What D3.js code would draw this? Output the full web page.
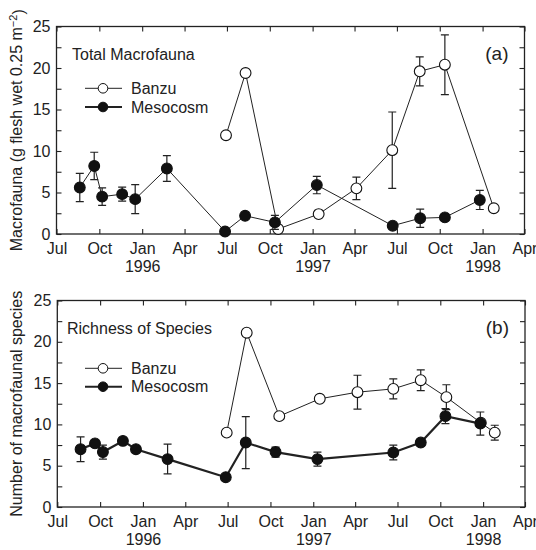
<!DOCTYPE html>
<html>
<head>
<meta charset="utf-8">
<script src="https://cdn.jsdelivr.net/npm/d3@7"></script>
<style>
  body { margin: 0; background: #fff; }
  svg text { font-family: "Liberation Sans", Arial, sans-serif; fill: #222; }
</style>
</head>
<body>
<div id="chart"></div>
<script>
// ---- data ----
const tickDates = ["1995-07-01","1995-10-01","1996-01-01","1996-04-01","1996-07-01","1996-10-01",
                   "1997-01-01","1997-04-01","1997-07-01","1997-10-01","1998-01-01","1998-04-01"];
const tickMonths = ["Jul","Oct","Jan","Apr","Jul","Oct","Jan","Apr","Jul","Oct","Jan","Apr"];
const tickYears = ["","","1996","","","","1997","","","","1998",""];

const mesoDates = ["1995-08-20","1995-09-20","1995-10-07","1995-11-19","1995-12-17","1996-02-23",
                   "1996-06-27","1996-08-09","1996-10-12","1997-01-10","1997-06-22","1997-08-20",
                   "1997-10-12","1997-12-26"];

// (a) total macrofauna
const mesoBiomass   = [5.6, 8.2, 4.5, 4.8, 4.2, 7.9, 0.3, 2.2, 1.4, 5.9, 1.0, 1.9, 2.0, 4.1];
const mesoBiomassSE = [1.7, 1.65, 1.05, 0.85, 1.75, 1.55, null, null, 0.85, 1.05, null, 1.1, null, 1.15];
const banzuDatesA   = ["1996-06-29","1996-08-10","1996-10-19","1997-01-14","1997-04-05","1997-06-21",
                       "1997-08-19","1997-10-12","1998-01-25"];
const banzuBiomass   = [11.9, 19.4, 0.6, 2.4, 5.5, 10.1, 19.6, 20.4, 3.1];
const banzuBiomassSE = [null, null, null, null, 1.35, 4.6, 1.75, 3.6, null];

// (b) species richness
const mesoRich   = [7.0, 7.7, 6.65, 8.0, 7.0, 5.8, 3.6, 7.8, 6.65, 5.8, 6.6, 7.8, 11.0, 10.1];
const mesoRichSE = [1.5, null, 0.85, null, null, 1.8, null, 3.15, 0.6, 0.85, 0.9, null, 0.9, 1.4];
const banzuDatesB = ["1996-06-29","1996-08-11","1996-10-20","1997-01-15","1997-04-06","1997-06-22",
                     "1997-08-20","1997-10-14","1997-12-27","1998-01-26"];
const banzuRich   = [9.0, 21.1, 11.0, 13.1, 13.9, 14.3, 15.35, 13.3, 10.2, 9.0];
const banzuRichSE = [null, null, null, null, 2.05, 1.2, 1.25, 1.5, null, 0.9];

const yTicks = d3.range(0, 25.01, 2.5);

const parse = d3.timeParse("%Y-%m-%d");

const width = 536, height = 550;
const svg = d3.select("#chart").append("svg")
  .attr("width", width)
  .attr("height", height);

function series(dates, vals, se) {
  return dates.map((d, i) => ({ date: parse(d), value: vals[i], se: se[i] }));
}

function drawPanel(cfg) {
  const g = svg.append("g");
  const x = d3.scaleTime()
    .domain([parse(tickDates[0]), parse(tickDates[tickDates.length - 1])])
    .range([cfg.left, cfg.right]);
  const y = d3.scaleLinear().domain([0, 25]).range([cfg.bottom, cfg.top]);
  const tickVals = tickDates.map(parse);

  // axes (ticks pointing inward on all four sides)
  const bottomAx = g.append("g")
    .attr("transform", `translate(0,${cfg.bottom})`)
    .call(d3.axisBottom(x).tickValues(tickVals).tickSize(-5).tickPadding(9)
      .tickFormat((d, i) => tickMonths[i]));
  g.append("g")
    .attr("transform", `translate(0,${cfg.top})`)
    .call(d3.axisTop(x).tickValues(tickVals).tickSize(-5).tickFormat(""));
  g.append("g")
    .attr("transform", `translate(${cfg.left},0)`)
    .call(d3.axisLeft(y).tickValues(yTicks).tickSize(-5).tickPadding(6)
      .tickFormat(d => d % 5 === 0 ? d : ""));
  g.append("g")
    .attr("transform", `translate(${cfg.right},0)`)
    .call(d3.axisRight(y).tickValues(yTicks).tickSize(-5).tickFormat(""));

  g.selectAll(".domain").remove();
  g.selectAll(".tick line").attr("stroke", "#222").attr("stroke-width", 1.1);
  g.selectAll(".tick text").style("font-size", "16px").attr("fill", "#222");

  // year labels under Jan ticks
  bottomAx.selectAll(".tick").append("text")
    .attr("y", 27).attr("dy", "0.71em")
    .attr("fill", "#222")
    .style("font-size", "16px")
    .text((d, i) => tickYears[i]);

  // frame
  g.append("rect")
    .attr("x", cfg.left).attr("y", cfg.top)
    .attr("width", cfg.right - cfg.left).attr("height", cfg.bottom - cfg.top)
    .attr("fill", "none").attr("stroke", "#222").attr("stroke-width", 1.3);

  // y label
  const yl = g.append("text")
    .attr("transform", `translate(16,${(cfg.top + cfg.bottom) / 2}) rotate(-90)`)
    .attr("text-anchor", "middle")
    .attr("dy", "0.35em")
    .style("font-size", "16px");
  cfg.ylabel(yl);

  // title and panel letter
  g.append("text").attr("x", cfg.titleX).attr("y", cfg.top + 33.5)
    .style("font-size", "16px").text(cfg.title);
  g.append("text").attr("x", cfg.right - 16).attr("y", cfg.top + 33)
    .attr("text-anchor", "end").style("font-size", "19px").text(cfg.letter);

  const line = d3.line().x(d => x(d.date)).y(d => y(d.value));

  function drawSeries(data, opts) {
    g.append("path").datum(data)
      .attr("fill", "none").attr("stroke", "#222")
      .attr("stroke-width", opts.lineWidth)
      .attr("d", line);
    const eb = data.filter(d => d.se != null);
    const cap = 4;
    g.selectAll(null).data(eb).join("path")
      .attr("fill", "none").attr("stroke", "#222").attr("stroke-width", 1.2)
      .attr("d", d => {
        const cx = x(d.date), y1 = y(d.value + d.se), y2 = y(d.value - d.se);
        return `M${cx},${y1}V${y2}M${cx - cap},${y1}H${cx + cap}M${cx - cap},${y2}H${cx + cap}`;
      });
    g.selectAll(null).data(data).join("circle")
      .attr("cx", d => x(d.date)).attr("cy", d => y(d.value))
      .attr("r", 5.4)
      .attr("fill", opts.filled ? "#111" : "#fff")
      .attr("stroke", "#111").attr("stroke-width", 1.1);
  }

  drawSeries(cfg.banzu, { filled: false, lineWidth: 1 });
  drawSeries(cfg.meso, { filled: true, lineWidth: cfg.mesoWidth });

  // legend
  const lg = [
    { name: "Banzu", filled: false, w: 1, y: cfg.legY[0] },
    { name: "Mesocosm", filled: true, w: 2, y: cfg.legY[1] }
  ];
  lg.forEach(l => {
    g.append("line").attr("x1", 85).attr("x2", 122).attr("y1", l.y).attr("y2", l.y)
      .attr("stroke", "#222").attr("stroke-width", l.w);
    g.append("circle").attr("cx", 103).attr("cy", l.y).attr("r", 4.8)
      .attr("fill", l.filled ? "#111" : "#fff").attr("stroke", "#111").attr("stroke-width", 1);
    g.append("text").attr("x", 131).attr("y", l.y).attr("dy", "0.35em")
      .style("font-size", "16px").text(l.name);
  });
}

drawPanel({
  left: 56.5, right: 524.5, top: 26.5, bottom: 234,
  title: "Total Macrofauna", titleX: 72, letter: "(a)",
  legY: [88.3, 107],
  mesoWidth: 1,
  banzu: series(banzuDatesA, banzuBiomass, banzuBiomassSE),
  meso: series(mesoDates, mesoBiomass, mesoBiomassSE),
  ylabel: t => {
    t.append("tspan").text("Macrofauna (g flesh wet 0.25 m");
    t.append("tspan").attr("dy", "-0.45em").style("font-size", "11px").text("\u22122");
    t.append("tspan").attr("dy", "0.45em").text(")");
  }
});

drawPanel({
  left: 57.3, right: 525, top: 300.5, bottom: 507,
  title: "Richness of Species", titleX: 67, letter: "(b)",
  legY: [368.3, 386.7],
  mesoWidth: 2.2,
  banzu: series(banzuDatesB, banzuRich, banzuRichSE),
  meso: series(mesoDates, mesoRich, mesoRichSE),
  ylabel: t => t.text("Number of macrofaunal species")
});
</script>
</body>
</html>
